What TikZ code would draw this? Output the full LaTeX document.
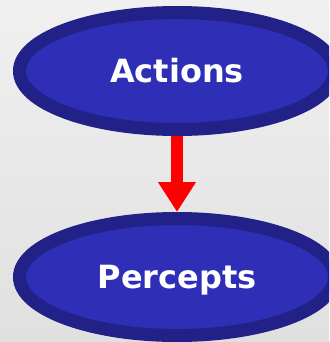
\documentclass[tikz,border=0pt]{standalone}
\usepackage{fontspec}
\newfontfamily\labelfont{DejaVu Sans}
\usetikzlibrary{shapes.geometric,arrows.meta}

\definecolor{blobfill}{RGB}{46,46,182}
\definecolor{blobline}{RGB}{33,33,136}
\definecolor{bgtop}{RGB}{240,240,240}
\definecolor{bgbottom}{RGB}{224,224,224}

\begin{document}
\begin{tikzpicture}[
    x=1pt, y=-1pt,
    blob/.style={ellipse, draw=blobline, fill=blobfill, line width=13pt,
                 minimum width=315pt, minimum height=117pt, inner sep=0pt,
                 text height=23pt, text depth=0pt,
                 text=white, font=\labelfont\bfseries\fontsize{32}{36}\selectfont},
    flow/.style={draw=red, line width=12pt,
                 -{Triangle[length=30pt,width=36pt]}}
]
    \useasboundingbox (0,0) rectangle (329,342);
    \clip (0,0) rectangle (329,342);
    \shade[top color=bgtop, bottom color=bgbottom] (0,0) rectangle (329,342);

    \node[blob] (actions) at (177,71) {Actions};
    \node[blob] (percepts) at (177,277) {Percepts};

    \path[flow] (actions.south) -- (percepts.north);
\end{tikzpicture}
\end{document}
